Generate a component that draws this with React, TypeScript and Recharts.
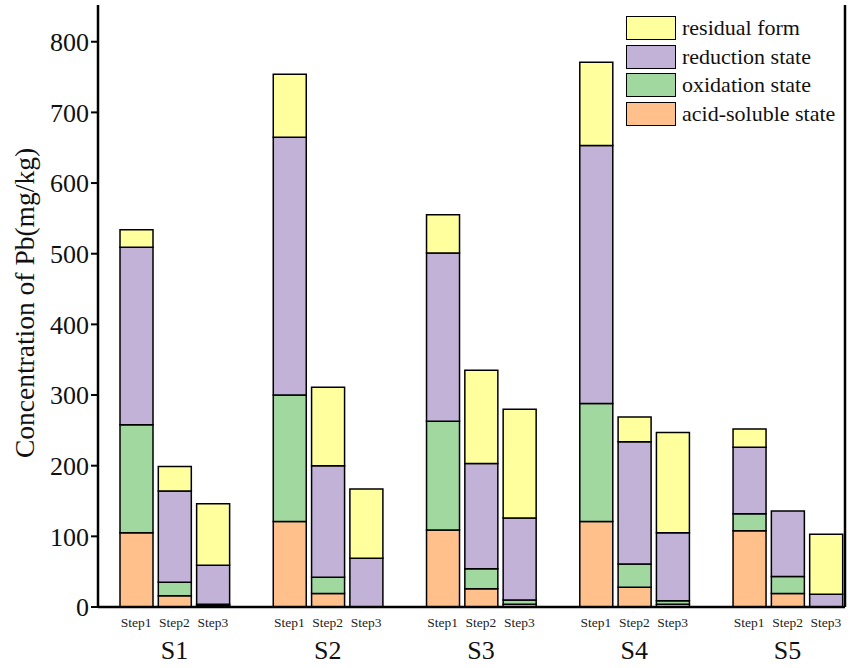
import React from "react";
import { BarChart, Bar, XAxis, YAxis } from "recharts";

const groups = ["S1", "S2", "S3", "S4", "S5"];
const steps = ["Step1", "Step2", "Step3"];
const acidSoluble = [105, 16, 2, 121, 19, 0, 109, 26, 4, 121, 28, 4, 108, 19, 0];
const oxidation = [153, 19, 2, 179, 23, 0, 154, 28, 6, 167, 33, 5, 24, 24, 0];
const reduction = [251, 129, 55, 365, 158, 69, 238, 149, 116, 365, 173, 96, 94, 93, 18];
const residual = [25, 35, 87, 89, 111, 98, 54, 132, 154, 118, 35, 142, 26, 0, 85];
const yTicks = [0, 100, 200, 300, 400, 500, 600, 700, 800];
const yLabel = "Concentration of Pb(mg/kg)";

const series = [
  { key: "acid", name: "acid-soluble state", color: "#FFC08C", values: acidSoluble },
  { key: "oxid", name: "oxidation state", color: "#A0D8A0", values: oxidation },
  { key: "red", name: "reduction state", color: "#C2B2D8", values: reduction },
  { key: "resid", name: "residual form", color: "#FFFF9E", values: residual },
];

type Row = { key: string; group: string; step: string; [k: string]: any };
const data: Row[] = [];
groups.forEach((g, gi) => {
  steps.forEach((s, si) => {
    const idx = gi * steps.length + si;
    const row: Row = { key: `${g}-${s}`, group: g, step: s };
    series.forEach((se) => {
      row[se.key] = se.values[idx];
    });
    data.push(row);
  });
  if (gi < groups.length - 1) data.push({ key: `gap${gi}`, group: "", step: "" });
});

const SERIF = "Liberation Serif, DejaVu Serif, Noto Serif, Times New Roman, serif";

const XTick = (props: any) => {
  const { x, y, payload } = props;
  const row = data.find((r) => r.key === payload.value);
  if (!row || !row.step) return null;
  return (
    <g>
      <text x={x} y={y + 11.5} textAnchor="middle" fontFamily={SERIF} fontSize={13.5} fill="#222">
        {row.step}
      </text>
      {row.step === "Step2" ? (
        <text x={x} y={y + 44} textAnchor="middle" fontFamily={SERIF} fontSize={26} fill="#111">
          {row.group}
        </text>
      ) : null}
    </g>
  );
};

const YLabel = (props: any) => {
  const vb = props.viewBox || { x: 0, y: 5, width: 98, height: 602 };
  const cx = 24;
  const cy = vb.y + vb.height / 2 - 3;
  return (
    <text
      x={cx}
      y={cy}
      transform={`rotate(-90, ${cx}, ${cy})`}
      textAnchor="middle"
      dominantBaseline="central"
      fontFamily={SERIF}
      fontSize={27.5}
      fill="#111"
    >
      {yLabel}
    </text>
  );
};

export default function App() {
  const legendItems = [...series].reverse();
  return (
    <div style={{ position: "absolute", left: 0, top: 0, width: 851, height: 668, background: "#fff" }}>
      <BarChart
        width={851}
        height={668}
        data={data}
        margin={{ top: 5, right: 0, bottom: 0, left: 0 }}
        barSize={33}
      >
        <XAxis
          dataKey="key"
          height={61}
          padding={{ left: 19, right: 0 }}
          tick={<XTick />}
          tickLine={false}
          interval={0}
          axisLine={{ stroke: "#000", strokeWidth: 2.5 }}
        />
        <XAxis
          xAxisId="top"
          dataKey="key"
          orientation="top"
          height={0}
          tick={false}
          tickLine={false}
          padding={{ left: 19, right: 0 }}
          axisLine={{ stroke: "#222", strokeWidth: 2 }}
        />
        <YAxis
          width={98}
          domain={[0, 852]}
          ticks={yTicks}
          interval={0}
          tickSize={7}
          tickMargin={2}
          tick={{ fontFamily: SERIF, fontSize: 26, fill: "#111" }}
          tickLine={{ stroke: "#000", strokeWidth: 2 }}
          axisLine={{ stroke: "#000", strokeWidth: 2.5 }}
          label={<YLabel />}
        />
        <YAxis
          yAxisId="r"
          orientation="right"
          width={6}
          domain={[0, 1]}
          tick={false}
          tickLine={false}
          axisLine={{ stroke: "#000", strokeWidth: 2.5 }}
        />
        {series.map((se) => (
          <Bar
            key={se.key}
            dataKey={se.key}
            name={se.name}
            stackId="a"
            fill={se.color}
            stroke="#000"
            strokeWidth={1.5}
            isAnimationActive={false}
          />
        ))}
      </BarChart>
      <div style={{ position: "absolute", left: 626, top: 14 }}>
        {legendItems.map((se) => (
          <div key={se.key} style={{ display: "flex", alignItems: "center", height: 28.5 }}>
            <div
              style={{
                width: 48,
                height: 22,
                background: se.color,
                border: "1.5px solid #000",
              }}
            />
            <span style={{ marginLeft: 6, fontFamily: SERIF, fontSize: 22, color: "#111", whiteSpace: "nowrap" }}>
              {se.name}
            </span>
          </div>
        ))}
      </div>
    </div>
  );
}
